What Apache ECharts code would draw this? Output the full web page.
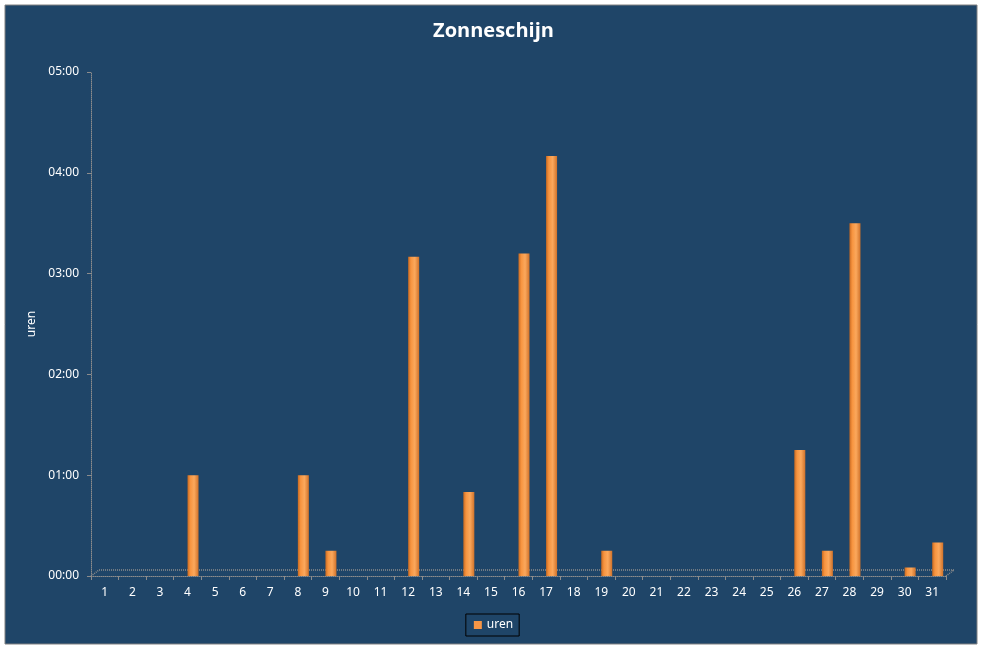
<!DOCTYPE html>
<html><head><meta charset="utf-8">
<script src="https://cdn.jsdelivr.net/npm/echarts@6/dist/echarts.min.js"></script>
<style>html,body{margin:0;padding:0;background:#fff;}#c{width:987px;height:648px;}</style>
</head><body><div id="c"></div>
<script>
const categories = ['1','2','3','4','5','6','7','8','9','10','11','12','13','14','15','16','17','18','19','20','21','22','23','24','25','26','27','28','29','30','31'];
// sunshine per day in minutes
const uren = [0,0,0,60,0,0,0,60,15,0,0,190,0,50,0,192,250,0,15,0,0,0,0,0,0,75,15,210,0,5,20];
const yTicks = [0,60,120,180,240,300];

function fmt(v){const h=Math.floor(v/60),m=Math.round(v%60);return String(h).padStart(2,'0')+':'+String(m).padStart(2,'0');}

const font = 'Noto Sans';
const chart = echarts.init(document.getElementById('c'));
chart.setOption({
  backgroundColor:'#ffffff',
  animation:false,
  title:{text:'Zonneschijn',left:'center',top:16,textStyle:{color:'#ffffff',fontFamily:'Open Sans',fontWeight:'bold',fontSize:20}},
  grid:[{left:91,right:41,top:72,bottom:72},{left:96.5,right:35.5,top:72,bottom:72}],
  legend:{bottom:12,left:'center',data:[{name:'uren',itemStyle:{color:'#F79646',borderWidth:0}}],itemWidth:8,itemHeight:8,icon:'rect',itemGap:6,borderColor:'#000000',borderWidth:1,padding:[5,6,5,8],
    textStyle:{color:'#ffffff',fontFamily:font,fontSize:12}},
  xAxis:[{type:'category',data:categories,gridIndex:0,
    axisLine:{lineStyle:{color:'#8C8C8C',type:'dotted',width:1}},
    axisTick:{show:true,lineStyle:{color:'#8C8C8C'},length:4},
    axisLabel:{color:'#ffffff',fontFamily:font,fontSize:12,margin:11}},
    {type:'category',data:categories,gridIndex:1,show:false}],
  yAxis:[{type:'value',gridIndex:0,min:yTicks[0],max:yTicks[yTicks.length-1],interval:60,
    name:'uren',nameLocation:'middle',nameGap:45,nameRotate:90,
    nameTextStyle:{color:'#ffffff',fontFamily:font,fontSize:12},
    axisLine:{show:true,lineStyle:{color:'#8C8C8C',type:'dotted'}},
    axisTick:{show:true,lineStyle:{color:'#8C8C8C'},length:4},
    splitLine:{show:false},
    axisLabel:{color:'#ffffff',fontFamily:font,fontSize:12,margin:12,formatter:fmt}},
    {type:'value',gridIndex:1,min:yTicks[0],max:yTicks[yTicks.length-1],interval:60,show:false,splitLine:{show:false}}],
  series:[{name:'uren',type:'bar',xAxisIndex:1,yAxisIndex:1,data:uren,barWidth:11,z:5,
    itemStyle:{color:new echarts.graphic.LinearGradient(0,0,1,0,[
      {offset:0,color:'#C86A22'},{offset:0.25,color:'#F7943F'},{offset:0.6,color:'#FBA85C'},{offset:1,color:'#D0722A'}]),
      borderWidth:0},
    emphasis:{disabled:true}}]
});

// 3D floor outline from axis coordinates
const n = categories.length;
const p0 = chart.convertToPixel({gridIndex:0},[0,0]);
const p1 = chart.convertToPixel({gridIndex:0},[1,0]);
const pN = chart.convertToPixel({gridIndex:0},[n-1,0]);
const bw = p1[0]-p0[0];
const fl = [p0[0]-bw/2,p0[1]], fr = [pN[0]+bw/2,pN[1]];
const dx = 8, dy = -6;
chart.setOption({graphic:[
  {type:'rect',z:-10,silent:true,shape:{x:5,y:5,width:972,height:639},style:{fill:'#1F4568',stroke:'#808080',lineWidth:1}},
  {type:'polyline',z:1,silent:true,shape:{points:[[fl[0],fl[1]],[fl[0]+dx,fl[1]+dy],[fr[0]+dx,fr[1]+dy],[fr[0],fr[1]]]},
    style:{fill:null,stroke:'#8C8C8C',lineWidth:1.5,lineDash:[1,1]}}
]});
</script></body></html>
